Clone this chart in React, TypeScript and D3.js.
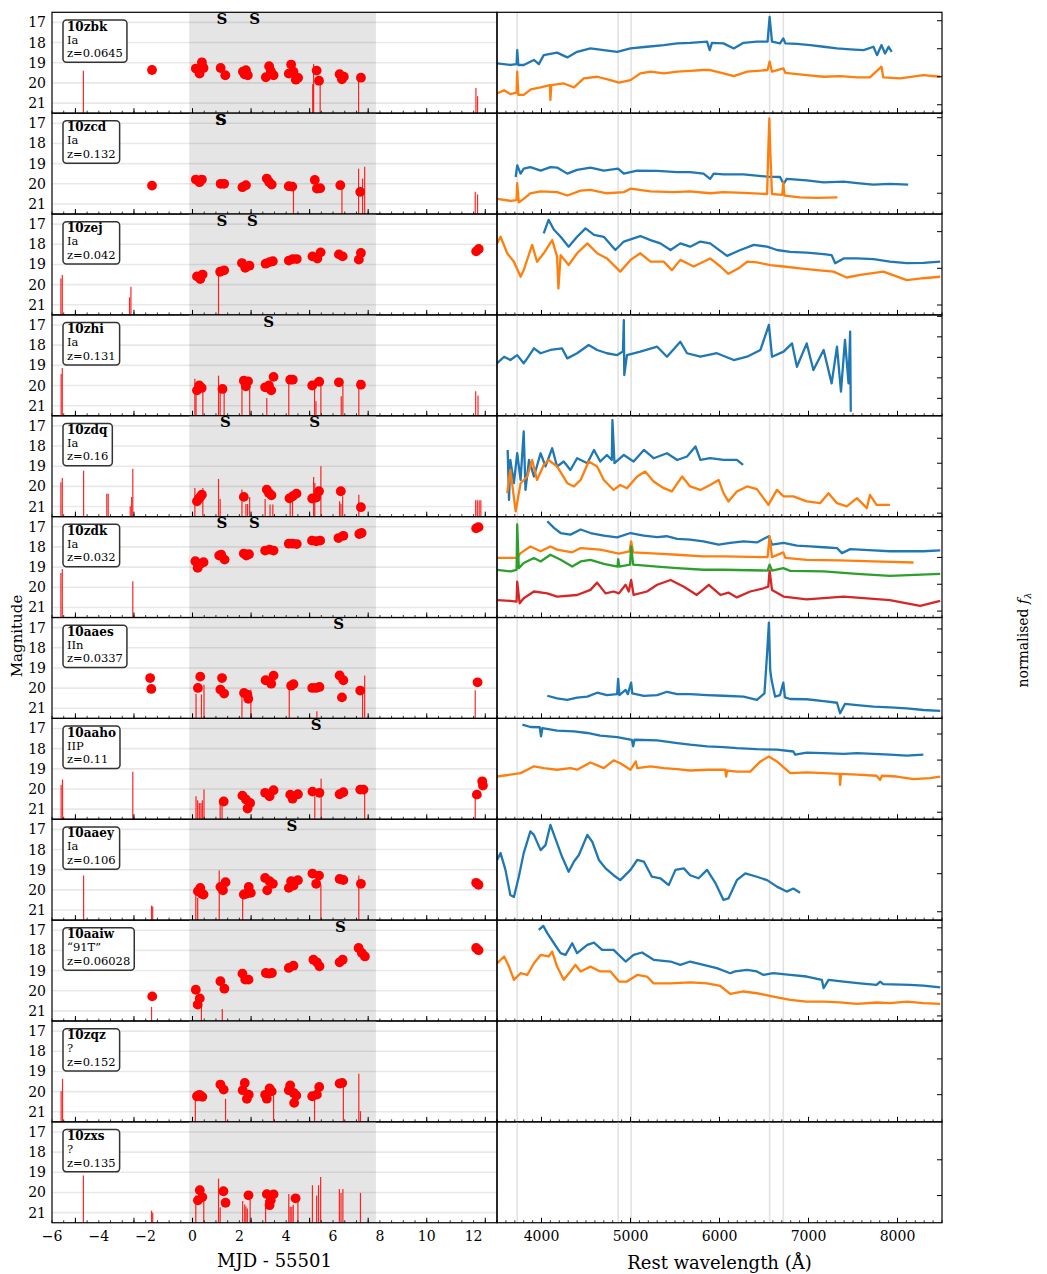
import React, { useEffect, useRef } from "react";
import * as d3 from "d3";

type Pt = [number, number];

// --- light curves: [MJD - 55501, magnitude] ---
const names = ["10zbk", "10zcd", "10zej", "10zhi", "10zdq", "10zdk", "10aaes", "10aaho", "10aaey", "10aaiw", "10zqz", "10zxs"];
const snTypes = ["Ia", "Ia", "Ia", "Ia", "Ia", "Ia", "IIn", "IIP", "Ia", "\u201c91T\u201d", "?", "?"];
const redshifts = ["0.0645", "0.132", "0.042", "0.131", "0.16", "0.032", "0.0337", "0.11", "0.106", "0.06028", "0.152", "0.135"];

const det10zbk: Pt[] = [[-1.73, 19.36], [0.14, 19.29], [0.3, 19.54], [0.4, 18.98], [0.47, 19.26], [1.2, 19.26], [1.4, 19.62], [2.15, 19.44], [2.22, 19.57], [2.28, 19.37], [2.36, 19.62], [3.13, 19.72], [3.27, 19.17], [3.34, 19.41], [3.46, 19.62], [4.11, 19.54], [4.21, 19.09], [4.31, 19.44], [4.41, 19.84], [4.51, 19.75], [5.3, 19.39], [5.4, 19.89], [6.28, 19.57], [6.38, 19.82], [6.46, 19.69], [7.19, 19.74]];
const lim10zbk: Pt[] = [[-4.66, 19.4], [5.13, 20.07], [5.17, 19.06], [5.45, 19.85], [7.09, 19.84], [12.1, 20.25], [12.17, 20.66]];
const det10zcd: Pt[] = [[-1.73, 20.09], [0.14, 19.79], [0.3, 19.92], [0.4, 19.79], [1.2, 20.0], [1.35, 20.0], [2.13, 20.17], [2.28, 20.07], [3.17, 19.74], [3.27, 19.91], [3.38, 20.04], [4.11, 20.12], [4.26, 20.14], [5.22, 19.81], [5.31, 20.24], [5.45, 20.22], [6.31, 20.07], [7.16, 20.4]];
const lim10zcd: Pt[] = [[4.31, 20.12], [6.38, 20.07], [7.09, 19.25], [7.26, 19.74], [7.35, 19.16], [12.07, 20.39], [12.17, 20.53]];
const det10zej: Pt[] = [[0.19, 19.59], [0.33, 19.72], [0.43, 19.5], [1.18, 19.36], [1.35, 19.29], [2.11, 18.93], [2.25, 19.17], [2.43, 19.06], [3.12, 18.96], [3.29, 18.88], [3.43, 18.84], [4.11, 18.81], [4.28, 18.73], [4.45, 18.73], [5.12, 18.6], [5.33, 18.71], [5.47, 18.4], [6.25, 18.5], [6.41, 18.6], [7.1, 18.76], [7.19, 18.43], [12.11, 18.35], [12.22, 18.23]];
const lim10zej: Pt[] = [[-5.62, 19.7], [-5.56, 19.52], [-2.69, 20.63], [-2.63, 20.11], [1.11, 19.34]];
const det10zhi: Pt[] = [[0.19, 20.24], [0.29, 20.0], [0.39, 20.12], [1.28, 20.17], [2.19, 19.76], [2.28, 20.04], [2.37, 19.79], [3.1, 20.09], [3.26, 20.0], [3.36, 20.24], [3.46, 19.57], [4.17, 19.71], [4.28, 19.71], [5.11, 20.0], [5.41, 19.81], [6.25, 19.84], [7.19, 19.96]];
const lim10zhi: Pt[] = [[-5.61, 19.43], [-5.56, 19.13], [0.1, 19.66], [0.15, 19.9], [0.44, 20.12], [1.11, 19.51], [1.18, 20.29], [1.35, 20.2], [2.11, 19.76], [2.44, 20.04], [3.17, 20.62], [4.11, 19.71], [5.21, 19.71], [5.27, 20.78], [5.48, 19.81], [6.35, 20.53], [6.42, 19.96], [7.1, 19.71], [12.09, 20.29], [12.19, 20.5]];
const det10zdq: Pt[] = [[0.19, 20.74], [0.26, 20.62], [0.33, 20.52], [0.4, 20.41], [2.19, 20.52], [3.17, 20.16], [3.26, 20.33], [3.37, 20.44], [4.14, 20.59], [4.28, 20.49], [4.44, 20.36], [5.11, 20.6], [5.28, 20.55], [5.4, 20.24], [6.33, 20.24], [7.19, 21.03]];
const lim10zdq: Pt[] = [[-5.62, 19.8], [-5.56, 19.58], [-4.65, 19.22], [-3.66, 20.37], [-3.6, 20.37], [-2.66, 20.98], [-2.6, 20.52], [-2.55, 19.13], [0.1, 20.08], [0.44, 20.08], [1.11, 19.63], [1.18, 20.62], [2.11, 20.16], [2.28, 20.87], [2.35, 20.87], [2.44, 20.52], [3.1, 20.62], [3.31, 20.9], [3.43, 20.9], [4.17, 20.65], [4.27, 20.65], [5.17, 19.53], [5.22, 19.83], [5.48, 19.0], [6.28, 20.74], [6.34, 20.86], [6.41, 20.49], [7.1, 20.41], [12.09, 20.69], [12.16, 20.69], [12.24, 20.69], [12.31, 20.69]];
const det10zdk: Pt[] = [[0.12, 18.71], [0.22, 19.04], [0.33, 18.84], [0.47, 18.76], [1.14, 18.43], [1.22, 18.38], [1.37, 18.63], [2.19, 18.33], [2.3, 18.43], [2.41, 18.36], [3.1, 18.18], [3.29, 18.13], [3.46, 18.18], [4.11, 17.84], [4.28, 17.84], [4.45, 17.86], [5.1, 17.69], [5.28, 17.72], [5.45, 17.69], [6.23, 17.56], [6.44, 17.45], [7.12, 17.36], [7.22, 17.31], [12.11, 17.08], [12.21, 17.02]];
const lim10zdk: Pt[] = [[-5.62, 19.29], [-5.56, 19.09], [-2.55, 19.7]];
const det10aaes: Pt[] = [[-1.81, 19.5], [-1.76, 20.04], [0.23, 19.99], [0.33, 19.43], [1.26, 19.5], [1.19, 20.07], [1.35, 20.27], [2.2, 20.24], [2.34, 20.32], [2.38, 20.53], [3.12, 19.61], [3.36, 19.78], [3.46, 19.38], [4.21, 19.88], [4.31, 19.8], [5.11, 19.99], [5.28, 19.99], [5.42, 19.94], [6.28, 19.37], [6.44, 19.61], [6.38, 20.46], [7.16, 20.12], [12.17, 19.71]];
const lim10aaes: Pt[] = [[0.15, 20.29], [0.38, 20.32], [0.49, 19.83], [2.11, 20.4], [2.49, 20.07], [4.13, 20.07], [5.31, 21.15], [7.26, 20.04], [7.35, 19.38], [12.07, 20.1]];
const det10aaho: Pt[] = [[1.33, 20.62], [2.13, 20.33], [2.28, 20.52], [2.35, 20.97], [2.46, 20.69], [3.1, 20.19], [3.29, 20.36], [3.46, 20.06], [4.17, 20.28], [4.27, 20.48], [4.5, 20.26], [5.12, 20.13], [5.42, 20.19], [6.28, 20.26], [6.44, 20.16], [7.16, 20.03], [7.3, 20.03], [12.14, 20.28], [12.37, 19.62], [12.4, 19.83]];
const lim10aaho: Pt[] = [[-5.61, 19.8], [-5.55, 19.53], [-2.55, 19.15], [0.15, 20.36], [0.22, 20.56], [0.29, 20.69], [0.36, 20.69], [0.42, 20.56], [0.49, 20.03], [1.18, 20.6], [1.26, 20.75], [5.22, 20.36], [5.49, 19.49], [7.35, 19.87], [12.07, 20.36]];
const det10aaey: Pt[] = [[0.23, 20.07], [0.33, 19.9], [0.4, 20.2], [0.47, 20.23], [1.19, 19.85], [1.3, 20.02], [1.41, 19.62], [2.19, 20.23], [2.32, 20.18], [2.4, 19.85], [2.49, 20.15], [3.1, 19.41], [3.19, 20.02], [3.29, 19.57], [3.43, 19.7], [4.11, 19.9], [4.21, 19.57], [4.31, 19.79], [4.5, 19.52], [5.12, 19.19], [5.28, 19.7], [5.4, 19.29], [6.28, 19.46], [6.44, 19.51], [7.19, 19.7], [12.11, 19.65], [12.21, 19.75]];
const lim10aaey: Pt[] = [[-4.65, 19.29], [-1.75, 20.78], [-1.7, 20.82], [0.14, 20.15], [0.22, 20.39], [1.14, 19.04], [2.14, 20.23], [5.48, 19.74], [7.1, 19.29]];
const det10aaiw: Pt[] = [[-1.72, 20.28], [0.14, 19.95], [0.31, 20.38], [0.22, 20.69], [1.19, 19.53], [1.36, 19.9], [2.13, 19.15], [2.25, 19.45], [2.39, 19.45], [3.13, 19.12], [3.27, 19.15], [3.39, 19.12], [4.11, 18.87], [4.31, 18.76], [5.16, 18.46], [5.31, 18.59], [5.42, 18.79], [6.28, 18.59], [6.41, 18.46], [7.09, 17.88], [7.23, 18.13], [7.36, 18.3], [12.11, 17.88], [12.21, 17.99]];
const lim10aaiw: Pt[] = [[-1.75, 20.8], [0.38, 20.44], [1.27, 20.9]];
const det10zqz: Pt[] = [[0.19, 20.23], [0.3, 20.16], [0.42, 20.26], [1.19, 19.65], [1.33, 19.9], [2.23, 19.57], [2.14, 19.93], [2.32, 20.36], [2.4, 20.15], [3.1, 20.16], [3.17, 20.35], [3.29, 19.84], [3.38, 19.99], [4.11, 19.93], [4.17, 19.69], [4.31, 20.06], [4.43, 20.19], [4.34, 20.56], [5.11, 20.23], [5.31, 20.15], [5.41, 19.77], [6.28, 19.6], [6.39, 19.57]];
const lim10zqz: Pt[] = [[-5.61, 19.98], [-5.55, 19.37], [0.12, 20.4], [1.41, 20.36], [3.46, 20.19], [5.21, 20.3], [6.44, 19.65], [7.1, 19.11], [7.17, 20.97]];
const det10zxs: Pt[] = [[0.23, 20.39], [0.31, 19.89], [0.42, 20.23], [1.32, 19.94], [1.41, 20.51], [2.39, 20.14], [3.17, 20.08], [3.29, 20.63], [3.34, 20.39], [3.46, 20.09], [4.4, 20.29]];
const lim10zxs: Pt[] = [[-4.66, 19.16], [-1.75, 20.9], [-1.7, 21.0], [0.14, 20.15], [0.48, 20.21], [1.11, 19.31], [1.18, 20.75], [2.14, 20.42], [2.23, 20.6], [2.28, 20.7], [2.34, 20.8], [2.46, 20.37], [3.12, 20.37], [4.11, 20.08], [4.17, 20.71], [4.24, 20.71], [4.3, 20.61], [4.5, 20.37], [5.12, 19.64], [5.3, 20.15], [5.38, 19.64], [5.47, 19.23], [6.27, 19.83], [6.34, 20.03], [6.42, 19.83], [7.17, 20.02]];

// epochs of the spectra ("S" markers)
const specEpochs: number[][] = [[1.26, 2.65], [1.19, 1.23], [1.25, 2.56], [3.25], [1.4, 5.21], [1.26, 2.64], [6.24], [5.28], [4.24], [6.31], [], []];

// --- spectra: [rest wavelength (A), normalised flux + offset] ---
const sp10zbkA: Pt[] = [[3500, 1.48], [3650, 1.42], [3720, 1.45], [3727, 1.95], [3740, 1.42], [3800, 1.42], [3915, 1.6], [3970, 1.45], [4025, 1.77], [4175, 1.86], [4290, 1.69], [4400, 1.89], [4550, 2.01], [4700, 1.95], [4850, 1.89], [5000, 2.01], [5185, 2.07], [5375, 2.13], [5525, 2.19], [5670, 2.21], [5860, 2.25], [5890, 1.95], [5915, 2.21], [6045, 2.19], [6160, 2.01], [6270, 2.21], [6420, 2.25], [6540, 2.25], [6563, 3.14], [6590, 2.25], [6680, 2.19], [6717, 2.37], [6740, 2.19], [6870, 2.17], [7020, 2.13], [7170, 2.07], [7320, 2.01], [7470, 1.98], [7620, 1.95], [7730, 2.07], [7770, 1.77], [7820, 2.13], [7860, 1.83], [7900, 2.07], [7935, 1.89]];
const sp10zbkB: Pt[] = [[3500, 0.4], [3580, 0.52], [3650, 0.38], [3720, 0.43], [3727, 1.18], [3740, 0.35], [3800, 0.35], [3880, 0.55], [3990, 0.62], [4095, 0.7], [4100, 0.17], [4110, 0.7], [4250, 0.76], [4365, 0.62], [4475, 0.94], [4625, 1.0], [4775, 0.88], [4870, 0.79], [5000, 0.88], [5110, 1.12], [5225, 1.18], [5375, 1.12], [5525, 1.18], [5670, 1.21], [5820, 1.24], [5895, 1.24], [6045, 1.12], [6160, 1.02], [6310, 1.18], [6540, 1.24], [6563, 1.54], [6590, 1.18], [6717, 1.3], [6740, 1.14], [6980, 1.06], [7170, 1.0], [7355, 1.02], [7545, 0.98], [7690, 0.98], [7820, 1.36], [7840, 0.98], [8030, 0.94], [8290, 1.06], [8480, 1.0]];
const sp10zcdA: Pt[] = [[3710, 0.43], [3727, 0.74], [3765, 0.52], [3800, 0.65], [3875, 0.69], [3990, 0.6], [4100, 0.69], [4175, 0.68], [4290, 0.52], [4400, 0.62], [4550, 0.68], [4700, 0.6], [4860, 0.65], [4925, 0.52], [5075, 0.6], [5300, 0.59], [5525, 0.56], [5670, 0.56], [5820, 0.52], [5895, 0.38], [5935, 0.52], [6045, 0.5], [6270, 0.5], [6535, 0.44], [6680, 0.43], [6720, 0.25], [6755, 0.38], [6980, 0.34], [7170, 0.29], [7395, 0.31], [7545, 0.27], [7730, 0.23], [7915, 0.25], [8120, 0.23]];
const sp10zcdB: Pt[] = [[3500, -0.15], [3650, -0.2], [3720, -0.18], [3727, 0.27], [3745, -0.24], [3800, -0.15], [3875, 0.0], [3990, 0.05], [4175, 0.03], [4290, -0.06], [4440, 0.07], [4550, 0.09], [4735, 0.0], [4925, 0.03], [5000, 0.12], [5225, 0.05], [5485, 0.03], [5670, 0.05], [5895, 0.0], [6045, 0.03], [6270, 0.01], [6535, -0.02], [6548, 1.14], [6560, 1.98], [6570, 1.14], [6590, -0.02], [6705, -0.04], [6717, 0.29], [6730, -0.06], [6905, -0.11], [7095, -0.12], [7325, -0.11]];
const sp10zejA: Pt[] = [[4025, 1.95], [4080, 2.32], [4140, 2.05], [4215, 1.86], [4305, 1.59], [4400, 1.86], [4495, 2.09], [4590, 1.91], [4700, 1.86], [4830, 1.5], [4925, 1.73], [5110, 1.88], [5225, 1.77], [5335, 1.68], [5450, 1.5], [5560, 1.68], [5670, 1.59], [5785, 1.73], [5895, 1.68], [6085, 1.34], [6235, 1.5], [6385, 1.64], [6535, 1.59], [6645, 1.5], [6795, 1.45], [6980, 1.43], [7170, 1.39], [7260, 1.36], [7300, 1.14], [7395, 1.27], [7545, 1.27], [7730, 1.25], [7915, 1.18], [8105, 1.14], [8290, 1.15], [8480, 1.18]];
const sp10zejB: Pt[] = [[3500, 1.68], [3540, 1.86], [3615, 1.41], [3690, 1.18], [3765, 0.77], [3800, 0.95], [3895, 1.64], [3950, 1.18], [4025, 1.41], [4120, 1.77], [4175, 1.32], [4190, 0.45], [4215, 1.36], [4305, 1.09], [4400, 1.41], [4515, 1.68], [4625, 1.41], [4735, 1.27], [4885, 0.91], [5000, 1.23], [5110, 1.41], [5225, 1.18], [5375, 1.18], [5465, 0.95], [5560, 1.23], [5710, 1.05], [5895, 1.27], [6010, 1.05], [6100, 0.85], [6215, 1.0], [6310, 1.18], [6420, 1.16], [6570, 1.09], [6720, 1.05], [6905, 1.0], [7095, 0.95], [7280, 0.91], [7430, 0.75], [7580, 0.82], [7840, 0.91], [8105, 0.68], [8290, 0.73], [8480, 0.77]];
const sp10zhiA: Pt[] = [[3500, 1.71], [3580, 2.03], [3650, 1.87], [3727, 2.11], [3800, 1.71], [3840, 1.95], [3915, 2.44], [3990, 2.2], [4100, 2.36], [4230, 2.44], [4290, 1.95], [4400, 2.2], [4530, 2.6], [4625, 2.36], [4735, 2.2], [4850, 2.11], [4915, 2.28], [4925, 3.82], [4930, 1.14], [4960, 2.11], [5110, 2.28], [5300, 2.52], [5410, 2.03], [5560, 2.76], [5635, 2.2], [5785, 2.03], [5970, 2.2], [6160, 1.87], [6310, 2.03], [6460, 2.36], [6555, 3.58], [6590, 2.03], [6720, 2.28], [6815, 2.68], [6870, 1.54], [6980, 2.68], [7055, 1.38], [7170, 2.36], [7260, 0.73], [7320, 2.52], [7365, 0.33], [7410, 2.85], [7450, 0.73], [7468, 3.25], [7475, -0.65]];
const sp10zdqA: Pt[] = [[3620, 2.53], [3635, 0.53], [3650, 2.13], [3690, 1.2], [3727, 2.4], [3765, 1.33], [3800, 3.27], [3820, 0.93], [3860, 2.13], [3915, 1.47], [3990, 2.4], [4045, 1.87], [4120, 2.6], [4175, 1.87], [4250, 2.07], [4325, 1.73], [4400, 2.2], [4515, 2.0], [4590, 2.53], [4660, 2.07], [4735, 2.33], [4790, 2.13], [4797, 3.73], [4820, 2.0], [4925, 2.33], [5035, 2.07], [5150, 2.53], [5260, 2.2], [5410, 2.4], [5525, 2.13], [5635, 2.27], [5730, 2.67], [5785, 2.13], [5895, 2.2], [6045, 2.13], [6195, 2.13], [6265, 1.93]];
const sp10zdqB: Pt[] = [[3615, 0.8], [3650, 1.73], [3710, 0.07], [3765, 1.2], [3840, 1.47], [3895, 2.13], [3950, 1.33], [4025, 1.93], [4080, 2.13], [4175, 1.87], [4290, 1.2], [4365, 1.07], [4440, 1.33], [4530, 2.07], [4625, 1.87], [4700, 1.33], [4810, 0.93], [4885, 1.13], [4960, 1.0], [5075, 1.47], [5165, 1.67], [5260, 1.27], [5375, 1.0], [5465, 0.87], [5580, 1.47], [5670, 1.07], [5785, 0.93], [5895, 1.13], [5990, 1.33], [6045, 0.8], [6100, 0.47], [6195, 0.87], [6310, 1.07], [6420, 0.96], [6550, 0.33], [6645, 0.93], [6720, 0.67], [6830, 0.67], [6980, 0.47], [7130, 0.4], [7225, 0.8], [7320, 0.4], [7430, 0.27], [7545, 0.6], [7655, 0.2], [7690, 0.73], [7765, 0.33], [7915, 0.33]];
const sp10zdkA: Pt[] = [[4065, 3.35], [4140, 3.1], [4215, 2.91], [4325, 2.85], [4440, 3.04], [4550, 2.91], [4700, 2.81], [4850, 2.75], [5000, 2.91], [5150, 2.81], [5300, 2.76], [5405, 2.79], [5525, 2.69], [5670, 2.66], [5820, 2.6], [5990, 2.48], [6120, 2.54], [6270, 2.6], [6420, 2.56], [6555, 2.79], [6590, 2.48], [6720, 2.54], [6870, 2.44], [7020, 2.41], [7170, 2.38], [7320, 2.35], [7375, 2.16], [7470, 2.31], [7730, 2.26], [7915, 2.23], [8290, 2.23], [8480, 2.26]];
const sp10zdkB: Pt[] = [[3500, 1.98], [3727, 1.98], [3765, 2.16], [3875, 2.41], [3990, 2.23], [4100, 2.41], [4175, 2.29], [4345, 2.19], [4440, 2.35], [4660, 2.29], [4870, 2.14], [4990, 2.23], [5007, 2.6], [5030, 2.19], [5300, 2.14], [5525, 2.1], [5820, 2.04], [6045, 2.04], [6540, 2.01], [6563, 2.79], [6590, 2.01], [6717, 2.19], [6740, 1.98], [6980, 1.91], [7355, 1.89], [7730, 1.85], [8180, 1.81]];
const sp10zdkC: Pt[] = [[3500, 1.54], [3650, 1.48], [3720, 1.54], [3727, 3.23], [3745, 1.6], [3800, 1.79], [3915, 1.98], [3990, 1.85], [4100, 2.1], [4215, 1.91], [4345, 1.66], [4440, 1.85], [4550, 1.91], [4700, 1.76], [4855, 1.66], [4861, 1.94], [4875, 1.66], [4995, 1.73], [5007, 2.41], [5030, 1.73], [5300, 1.66], [5525, 1.6], [5820, 1.54], [6045, 1.54], [6540, 1.51], [6563, 1.73], [6590, 1.51], [6717, 1.6], [6795, 1.5], [7170, 1.48], [7545, 1.39], [7915, 1.31], [8480, 1.39]];
const sp10zdkD: Pt[] = [[3500, 0.41], [3650, 0.38], [3720, 0.35], [3727, 1.1], [3755, 0.29], [3800, 0.48], [3915, 0.73], [4065, 0.66], [4175, 0.54], [4400, 0.6], [4550, 0.79], [4625, 1.06], [4720, 0.66], [4810, 0.73], [4870, 0.66], [4945, 0.98], [4980, 0.73], [5007, 1.16], [5035, 0.6], [5185, 0.73], [5300, 0.98], [5450, 1.16], [5600, 0.91], [5745, 0.6], [5880, 0.98], [6010, 0.6], [6100, 0.69], [6195, 0.51], [6345, 0.73], [6495, 0.85], [6548, 0.91], [6563, 1.51], [6590, 0.79], [6720, 0.54], [6980, 0.44], [7395, 0.54], [7620, 0.48], [7915, 0.41], [8105, 0.29], [8255, 0.19], [8480, 0.38]];
const sp10aaesA: Pt[] = [[4065, 0.14], [4175, 0.03], [4290, -0.04], [4400, 0.06], [4515, 0.1], [4625, 0.27], [4735, 0.17], [4850, 0.21], [4861, 0.86], [4875, 0.17], [4945, 0.39], [4970, 0.21], [5007, 0.7], [5020, 0.24], [5150, 0.13], [5300, 0.17], [5410, 0.31], [5525, 0.21], [5670, 0.21], [5860, 0.17], [6045, 0.14], [6270, 0.1], [6420, -0.04], [6505, 0.24], [6535, 1.96], [6555, 3.27], [6570, 1.24], [6585, 0.81], [6625, 0.1], [6680, 0.17], [6717, 0.7], [6735, 0.07], [6795, 0.0], [6980, -0.01], [7170, -0.09], [7320, -0.16], [7355, -0.61], [7410, -0.21], [7545, -0.26], [7730, -0.33], [7915, -0.36], [8105, -0.4], [8290, -0.47], [8480, -0.51]];
const sp10aahoA: Pt[] = [[3785, 3.36], [3875, 3.27], [3980, 3.26], [3995, 2.91], [4010, 3.23], [4175, 3.13], [4365, 3.1], [4515, 3.04], [4660, 2.94], [4850, 2.88], [5015, 2.78], [5030, 2.53], [5045, 2.78], [5300, 2.76], [5525, 2.65], [5670, 2.59], [5860, 2.53], [6045, 2.5], [6195, 2.46], [6420, 2.42], [6645, 2.4], [6830, 2.33], [6850, 2.21], [6980, 2.29], [7170, 2.27], [7395, 2.24], [7545, 2.27], [7730, 2.24], [7915, 2.21], [8105, 2.17], [8290, 2.21]];
const sp10aahoB: Pt[] = [[3500, 1.37], [3650, 1.44], [3765, 1.5], [3840, 1.63], [3915, 1.76], [4025, 1.69], [4175, 1.63], [4325, 1.69], [4400, 1.63], [4550, 1.91], [4700, 1.69], [4810, 1.99], [4885, 1.88], [5000, 1.63], [5060, 1.95], [5075, 1.69], [5225, 1.76], [5375, 1.69], [5525, 1.65], [5670, 1.6], [5860, 1.63], [6065, 1.63], [6075, 1.37], [6085, 1.6], [6195, 1.56], [6345, 1.56], [6460, 1.95], [6555, 2.14], [6645, 1.95], [6795, 1.5], [6980, 1.53], [7170, 1.5], [7350, 1.47], [7355, 1.05], [7365, 1.47], [7545, 1.44], [7765, 1.4], [7805, 1.24], [7825, 1.4], [7990, 1.37], [8180, 1.27], [8365, 1.31], [8480, 1.37]];
const sp10aaeyA: Pt[] = [[3500, 1.36], [3540, 1.54], [3595, 1.1], [3650, 0.44], [3690, 0.39], [3745, 0.92], [3800, 1.54], [3875, 2.11], [3915, 2.02], [3990, 1.62], [4045, 1.75], [4100, 2.28], [4155, 1.93], [4230, 1.45], [4305, 1.05], [4365, 1.32], [4420, 1.49], [4515, 2.02], [4570, 1.84], [4645, 1.36], [4720, 1.14], [4810, 0.96], [4885, 0.83], [5000, 1.1], [5075, 1.36], [5150, 1.32], [5240, 0.92], [5335, 0.88], [5430, 0.7], [5505, 1.1], [5600, 1.14], [5670, 0.96], [5765, 0.88], [5860, 1.1], [5955, 0.75], [6045, 0.31], [6100, 0.35], [6195, 0.83], [6290, 1.01], [6420, 0.92], [6535, 0.83], [6645, 0.66], [6755, 0.53], [6830, 0.61], [6905, 0.5]];
const sp10aaiwA: Pt[] = [[3970, 3.91], [4020, 4.09], [4065, 3.76], [4140, 3.3], [4215, 2.85], [4270, 2.77], [4345, 3.3], [4400, 2.85], [4515, 3.23], [4590, 3.33], [4680, 3.0], [4810, 3.0], [4945, 2.47], [5035, 2.77], [5130, 2.88], [5260, 2.55], [5450, 2.47], [5560, 2.32], [5670, 2.47], [5820, 2.32], [5970, 2.17], [6120, 1.94], [6175, 2.02], [6310, 2.09], [6420, 2.02], [6495, 1.86], [6605, 1.94], [6795, 1.86], [6980, 1.79], [7150, 1.64], [7170, 1.26], [7225, 1.64], [7395, 1.56], [7580, 1.48], [7765, 1.41], [7805, 1.56], [7840, 1.44], [8140, 1.41], [8290, 1.38], [8480, 1.3]];
const sp10aaiwB: Pt[] = [[3500, 2.39], [3580, 2.7], [3635, 2.24], [3690, 1.64], [3765, 1.94], [3840, 1.86], [3915, 2.39], [3990, 2.77], [4080, 2.7], [4120, 2.92], [4175, 2.24], [4250, 1.64], [4325, 2.02], [4380, 2.32], [4440, 2.02], [4550, 2.24], [4660, 2.02], [4775, 2.02], [4870, 1.56], [4960, 1.56], [5075, 1.86], [5185, 1.79], [5260, 1.48], [5450, 1.48], [5670, 1.52], [5860, 1.48], [6010, 1.36], [6120, 1.0], [6270, 1.11], [6420, 1.03], [6605, 0.88], [6795, 0.73], [6980, 0.65], [7170, 0.65], [7355, 0.62], [7545, 0.55], [7765, 0.61], [7915, 0.58], [8105, 0.65], [8290, 0.58], [8480, 0.55]];

const spectra: Pt[][][] = [
  [sp10zbkA, sp10zbkB], [sp10zcdA, sp10zcdB], [sp10zejA, sp10zejB], [sp10zhiA],
  [sp10zdqA, sp10zdqB], [sp10zdkA, sp10zdkB, sp10zdkC, sp10zdkD], [sp10aaesA],
  [sp10aahoA, sp10aahoB], [sp10aaeyA], [sp10aaiwA, sp10aaiwB], [], [],
];
const detections: Pt[][] = [det10zbk, det10zcd, det10zej, det10zhi, det10zdq, det10zdk, det10aaes, det10aaho, det10aaey, det10aaiw, det10zqz, det10zxs];
const limits: Pt[][] = [lim10zbk, lim10zcd, lim10zej, lim10zhi, lim10zdq, lim10zdk, lim10aaes, lim10aaho, lim10aaey, lim10aaiw, lim10zqz, lim10zxs];

// flux axis range and ticks of each spectrum panel
const fluxRanges: Pt[] = [[-0.3, 3.3], [-0.55, 2.12], [-0.27, 2.48], [-0.85, 4.07], [-0.14, 3.9], [-0.24, 3.52], [-0.83, 3.49], [-0.27, 3.6], [-0.22, 2.43], [-0.23, 4.35], [-0.76, 2.06], [-0.76, 2.06]];
const fluxTicks: number[][] = [[0, 1, 2, 3], [0, 1, 2], [0, 1, 2], [0, 1, 2, 3, 4], [0, 1, 2, 3], [0, 1, 2, 3], [0, 1, 2, 3], [0, 1, 2, 3], [0, 1, 2], [0, 1, 2, 3, 4], [0, 1], [0, 1]];

const magTicks = [17, 18, 19, 20, 21];
const timeLabels = [-6, -4, -2, 0, 2, 4, 6, 8, 10, 12];
const wlLabels = [4000, 5000, 6000, 7000, 8000];
const lineWavelengths = [3727, 4861, 5007, 6563, 6717];
const windowSpan: Pt = [-0.14, 7.83];
const specColors = ["#1f77b4", "#ff7f0e", "#2ca02c", "#d62728"];

const W = 1047, H = 1274;
const top0 = 12.3, rowH = 100.87;
const lcL = 52, mid = 497, spR = 942;
const serif = "'DejaVu Serif', 'Liberation Serif', serif";

export default function App() {
  const ref = useRef<SVGSVGElement>(null);

  useEffect(() => {
    const svg = d3.select(ref.current);
    svg.selectAll("*").remove();

    const x = d3.scaleLinear().domain([-6, 13]).range([lcL, mid]);
    const wl = d3.scaleLinear().domain([3500, 8500]).range([mid, spR]);

    names.forEach((name, i) => {
      const top = top0 + i * rowH;
      const bot = top + rowH;
      const y = d3.scaleLinear().domain([16.5, 21.5]).range([top, bot]);
      const g = svg.append("g");

      // shaded observing window
      g.append("rect")
        .attr("x", x(windowSpan[0])).attr("y", top)
        .attr("width", x(windowSpan[1]) - x(windowSpan[0])).attr("height", rowH)
        .attr("fill", "#e5e5e5");

      // magnitude grid
      g.selectAll(".grid").data(magTicks).enter().append("line")
        .attr("x1", lcL).attr("x2", mid)
        .attr("y1", (d) => y(d)).attr("y2", (d) => y(d))
        .attr("stroke", "#000").attr("stroke-opacity", 0.09).attr("stroke-width", 1.6);

      // non-detection limits
      g.selectAll(".lim").data(limits[i]).enter().append("line")
        .attr("x1", (d) => x(d[0])).attr("x2", (d) => x(d[0]))
        .attr("y1", bot).attr("y2", (d) => y(d[1]))
        .attr("stroke", "#ff0000").attr("stroke-opacity", 0.85).attr("stroke-width", 1.2);

      // detections
      g.selectAll(".det").data(detections[i]).enter().append("circle")
        .attr("cx", (d) => x(d[0])).attr("cy", (d) => y(d[1]))
        .attr("r", 4.9).attr("fill", "#ff0000");

      // spectrum epochs
      g.selectAll(".sp").data(specEpochs[i]).enter().append("text")
        .attr("x", (d) => x(d)).attr("y", top + 11.6)
        .attr("text-anchor", "middle").attr("font-family", serif)
        .attr("font-weight", "bold").attr("font-size", 15).text("S");

      // label box
      const box = g.append("g");
      const bx = 63, by = top + 7.7;
      const rect = box.append("rect");
      box.append("text").attr("x", bx + 4).attr("y", by + 10.5)
        .attr("font-family", serif).attr("font-weight", "bold").attr("font-size", 12).text(name);
      box.append("text").attr("x", bx + 4).attr("y", by + 23.5)
        .attr("font-family", serif).attr("font-size", 11.5).text(snTypes[i]);
      box.append("text").attr("x", bx + 4).attr("y", by + 37)
        .attr("font-family", serif).attr("font-size", 11.5).text(`z=${redshifts[i]}`);
      const bb = (box.node() as SVGGElement).getBBox();
      rect.attr("x", bx).attr("y", by).attr("width", bb.width + 8).attr("height", 42.3)
        .attr("rx", 3.5).attr("fill", "#fff").attr("stroke", "#333").attr("stroke-width", 1.5);

      // time ticks on bottom edge
      const minorT = d3.range(-6, 13.01, 0.5);
      g.selectAll(".tmin").data(minorT).enter().append("line")
        .attr("x1", (d) => x(d)).attr("x2", (d) => x(d))
        .attr("y1", bot).attr("y2", bot - 2.5).attr("stroke", "#000").attr("stroke-width", 0.8);
      const majorT = d3.range(-5, 13.01, 2.5);
      g.selectAll(".tmaj").data(majorT).enter().append("line")
        .attr("x1", (d) => x(d)).attr("x2", (d) => x(d))
        .attr("y1", bot).attr("y2", bot - 5).attr("stroke", "#000").attr("stroke-width", 1);

      // magnitude tick labels
      g.selectAll(".mlab").data(magTicks).enter().append("text")
        .attr("x", 46).attr("y", (d) => y(d) + 5)
        .attr("text-anchor", "end").attr("font-family", serif).attr("font-size", 14)
        .text((d) => d);

      // spectrum panel
      const fy = d3.scaleLinear().domain(fluxRanges[i]).range([bot, top]);
      const clipId = `clip${i}`;
      svg.append("clipPath").attr("id", clipId).append("rect")
        .attr("x", mid).attr("y", top).attr("width", spR - mid).attr("height", rowH);

      g.selectAll(".el").data(lineWavelengths).enter().append("line")
        .attr("x1", (d) => wl(d)).attr("x2", (d) => wl(d))
        .attr("y1", top).attr("y2", bot)
        .attr("stroke", "#e2e2e2").attr("stroke-width", 1.6);

      const line = d3.line<Pt>().x((d) => wl(d[0])).y((d) => fy(d[1]));
      const sg = g.append("g").attr("clip-path", `url(#${clipId})`);
      spectra[i].forEach((s, k) => {
        sg.append("path").attr("d", line(s) as string)
          .attr("fill", "none").attr("stroke", specColors[k])
          .attr("stroke-width", 2.3).attr("stroke-linejoin", "round");
      });

      const minorW = d3.range(3500, 8501, 100);
      g.selectAll(".wmin").data(minorW).enter().append("line")
        .attr("x1", (d) => wl(d)).attr("x2", (d) => wl(d))
        .attr("y1", bot).attr("y2", bot - 2.5).attr("stroke", "#000").attr("stroke-width", 0.8);
      g.selectAll(".wmaj").data(wlLabels).enter().append("line")
        .attr("x1", (d) => wl(d)).attr("x2", (d) => wl(d))
        .attr("y1", bot).attr("y2", bot - 5).attr("stroke", "#000").attr("stroke-width", 1);
      g.selectAll(".fy").data(fluxTicks[i]).enter().append("line")
        .attr("x1", spR).attr("x2", spR - 5)
        .attr("y1", (d) => fy(d)).attr("y2", (d) => fy(d))
        .attr("stroke", "#000").attr("stroke-width", 1);

      // frames
      g.append("rect").attr("x", lcL).attr("y", top).attr("width", mid - lcL).attr("height", rowH)
        .attr("fill", "none").attr("stroke", "#000").attr("stroke-width", 1.2);
      g.append("rect").attr("x", mid).attr("y", top).attr("width", spR - mid).attr("height", rowH)
        .attr("fill", "none").attr("stroke", "#000").attr("stroke-width", 1.2);
    });

    const bottom = top0 + names.length * rowH;

    svg.selectAll(".tl").data(timeLabels).enter().append("text")
      .attr("x", (d) => x(d)).attr("y", bottom + 18)
      .attr("text-anchor", "middle").attr("font-family", serif).attr("font-size", 14)
      .text((d) => (d < 0 ? `\u2212${-d}` : `${d}`));
    svg.selectAll(".wlab").data(wlLabels).enter().append("text")
      .attr("x", (d) => wl(d)).attr("y", bottom + 18)
      .attr("text-anchor", "middle").attr("font-family", serif).attr("font-size", 14)
      .text((d) => d);

    svg.append("text").attr("x", (lcL + mid) / 2).attr("y", bottom + 44)
      .attr("text-anchor", "middle").attr("font-family", serif).attr("font-size", 18)
      .text("MJD - 55501");
    svg.append("text").attr("x", (mid + spR) / 2).attr("y", bottom + 46)
      .attr("text-anchor", "middle").attr("font-family", serif).attr("font-size", 18)
      .text("Rest wavelength (\u00c5)");

    svg.append("text").attr("transform", "translate(22,636) rotate(-90)")
      .attr("text-anchor", "middle").attr("font-family", serif).attr("font-size", 15)
      .text("Magnitude");

    const fl = svg.append("text").attr("transform", "translate(1028,640) rotate(-90)")
      .attr("text-anchor", "middle").attr("font-family", serif).attr("font-size", 14);
    fl.append("tspan").text("normalised ");
    fl.append("tspan").attr("font-style", "italic").text("f");
    fl.append("tspan").attr("font-style", "italic").attr("font-size", 10).attr("dy", 3).text("\u03bb");
  }, []);

  return (
    <svg
      ref={ref}
      width={W}
      height={H}
      style={{ position: "absolute", left: 0, top: 0, background: "#fff" }}
    />
  );
}
